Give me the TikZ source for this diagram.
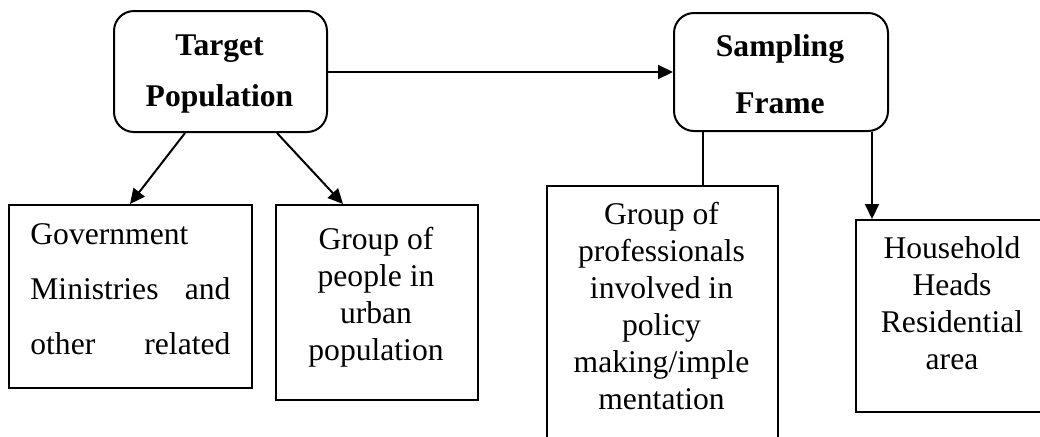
\documentclass[tikz,border=0pt]{standalone}
\usepackage{fontspec}
\setmainfont{Liberation Serif}
\usetikzlibrary{arrows.meta}
\newcommand\bodyfont[1]{\fontsize{15.8pt}{#1}\selectfont}
\begin{document}
\begin{tikzpicture}[x=0.5pt,y=-0.5pt,
  box/.style={draw, line width=1pt, inner sep=0pt, anchor=north west},
  rbox/.style={box, rounded corners=10pt},
  lbl/.style={inner sep=0pt, anchor=base},
  arr/.style={line width=1pt, -{Triangle[length=7.5pt,width=7pt]}},
  link/.style={line width=1pt}]
\useasboundingbox (0,0) rectangle (1040,436);
\clip (0,0) rectangle (1040,436);

% top row: rounded title boxes
\node[rbox, minimum width=106.5pt, minimum height=60.5pt] (tp) at (113,10) {};
\node[lbl] (tptext) at (219.5,55)
  {\parbox[t]{110pt}{\centering\bfseries\bodyfont{25.5pt}Target\\Population}};
\node[rbox, minimum width=107pt, minimum height=59pt] (sf) at (673,12) {};
\node[lbl] (sftext) at (780,56)
  {\parbox[t]{110pt}{\centering\bfseries\bodyfont{28.5pt}Sampling\\Frame}};

% lower row: plain boxes
\node[box, minimum width=121.5pt, minimum height=91.5pt] (gov) at (8,204) {};
\node[lbl, anchor=base west] (govtext) at (30,244)
  {\parbox[t]{100pt}{\bodyfont{27.5pt}Government\\Ministries\hfill and\\other\hfill related}};

\node[box, minimum width=101pt, minimum height=97.5pt] (urb) at (275,204) {};
\node[lbl] (urbtext) at (376,249)
  {\parbox[t]{100pt}{\centering\bodyfont{18.5pt}Group of\\people in\\urban\\population}};

\node[box, minimum width=115.5pt, minimum height=147.5pt] (prof) at (546,185) {};
\node[lbl] (proftext) at (661.5,224)
  {\parbox[t]{112pt}{\centering\bodyfont{18.5pt}Group of\\professionals\\involved in\\policy\\making/imple\\mentation}};

\node[box, minimum width=97pt, minimum height=96pt] (hh) at (855,219) {};
\node[lbl] (hhtext) at (952,258)
  {\parbox[t]{95pt}{\centering\bodyfont{18.5pt}Household\\Heads\\Residential\\area}};

% connectors
\draw[arr] (tp.east |- 0,72) -- (sf.west |- 0,72);
\draw[arr] ([xshift=36pt]tp.south west) -- ([xshift=61pt]gov.north west);
\draw[arr] ([xshift=82pt]tp.south west) -- ([xshift=34pt]urb.north west);
\draw[link] ([xshift=15pt]sf.south west) -- ([xshift=15pt]sf.south west |- prof.north);
\draw[arr] ([xshift=-8.5pt]sf.south east) -- ([xshift=-8.5pt]sf.south east |- hh.north);
\end{tikzpicture}
\end{document}
